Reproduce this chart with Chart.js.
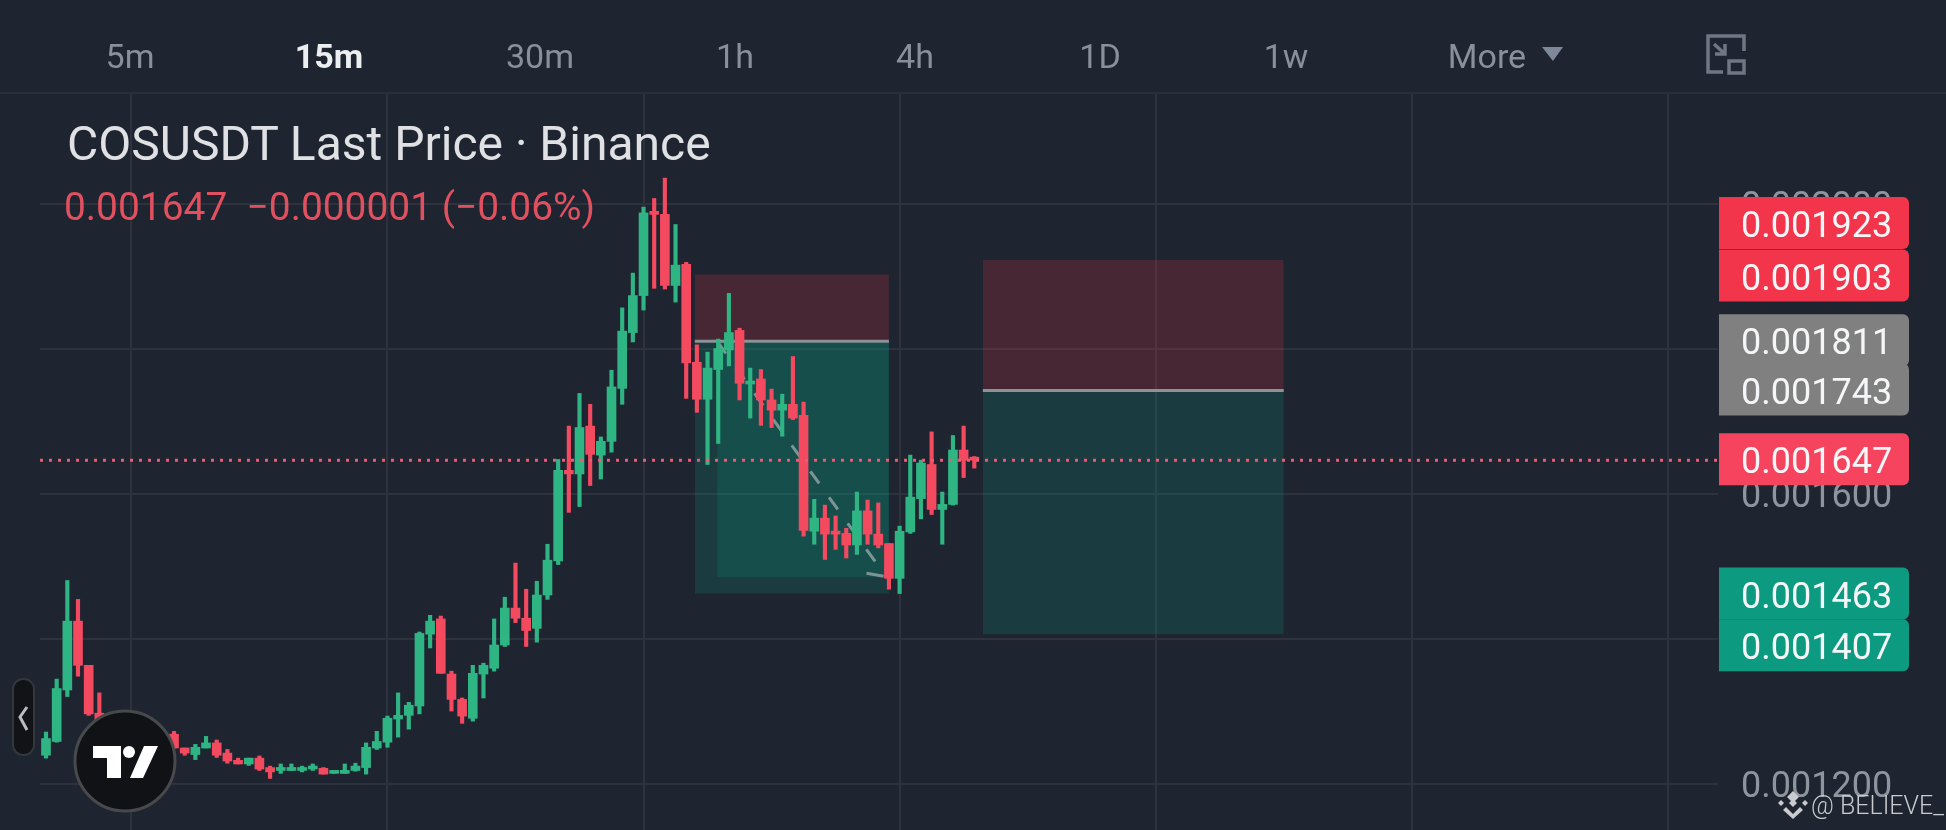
<!DOCTYPE html>
<html>
<head>
<meta charset="utf-8">
<title>COSUSDT</title>
<script src="https://cdn.jsdelivr.net/npm/chart.js@4"></script>
<style>
    html, body { margin: 0; padding: 0; background: #1e2430; }
    body { position: relative; width: 1946px; height: 830px; overflow: hidden; font-family: Roboto, sans-serif; }
    canvas { position: absolute; left: 0; top: 0; }
    .topline { position: absolute; left: 0; top: 92px; width: 1946px; height: 2px; background: #2a303b; }
    .tab { position: absolute; top: 36px; line-height: 40px; font-size: 34px; color: #8a909a; transform: translateX(-50%); white-space: nowrap; }
    .tab.on { color: #eceef0; font-weight: 700; }
    .title { position: absolute; left: 67px; top: 117px; font-size: 48px; line-height: 54px; color: #dfe1e4; white-space: nowrap; }
    .quote { position: absolute; left: 64px; top: 185px; font-size: 38.9px; line-height: 44px; color: #e0505f; white-space: pre; }
    .mark { position: absolute; left: 1811px; top: 790px; font-size: 25px; line-height: 32px; color: #c9cbce; font-weight: 300; white-space: nowrap; }
    svg { position: absolute; left: 0; top: 0; }
</style>
</head>
<body>
<canvas id="chart" width="1946" height="830"></canvas>
<div class="topline"></div>
<div class="tab" style="left:130px">5m</div>
<div class="tab on" style="left:329px">15m</div>
<div class="tab" style="left:540px">30m</div>
<div class="tab" style="left:735px">1h</div>
<div class="tab" style="left:915px">4h</div>
<div class="tab" style="left:1100px">1D</div>
<div class="tab" style="left:1286px">1w</div>
<div class="tab" style="left:1487px">More</div>
<div class="title">COSUSDT Last Price · Binance</div>
<div class="quote">0.001647  −0.000001 (−0.06%)</div>
<div class="mark">@ BELIEVE_</div>
<svg width="1946" height="830" viewBox="0 0 1946 830">
    <polygon points="1542,47 1563,47 1553,61" fill="#7f8899"/>
    <path d="M1723 72H1708V36H1744V51M1714 44L1725 54M1715 54H1725V44" fill="none" stroke="#6f7785" stroke-width="3.5"/>
    <rect x="1729" y="61" width="15" height="12" fill="none" stroke="#6f7785" stroke-width="3.5"/>
    <rect x="13" y="679" width="21" height="76" rx="10" fill="#111317" stroke="#33363b" stroke-width="2"/>
    <path d="M27 707L20 717L27 730" fill="none" stroke="#b9bcc0" stroke-width="3"/>
    <circle cx="125" cy="761" r="50" fill="#111215" stroke="#48494b" stroke-width="3"/>
    <polygon points="93,746 121,746 121,778 107,778 107,758 93,758" fill="#fff"/>
    <circle cx="129" cy="752" r="6" fill="#fff"/>
    <polygon points="144,746 158,746 143,778 130,778" fill="#fff"/>
    <g fill="#c9cbce">
        <polygon points="1793,791 1799,797 1793,803 1787,797"/>
        <polygon points="1793,799 1797,803 1793,807 1789,803"/>
        <polygon points="1781,800 1784,803 1781,806 1778,803"/>
        <polygon points="1805,800 1808,803 1805,806 1802,803"/>
        <polygon points="1786,807 1793,814 1800,807 1803,810 1793,819 1783,810"/>
    </g>
</svg>
<script>
// prices are in millionths of USDT, one entry per 15m candle
const opens = [1240,1259,1330,1425,1364,1298,1276,1262,1269,1257,
    1262,1252,1269,1250,1241,1250,1257,1243,1233,1228,
    1236,1223,1219,1219,1219,1221,1222,1215,1215,1219,
    1223,1250,1258,1290,1295,1308,1407,1428,1352,1317,
    1291,1352,1360,1392,1443,1429,1415,1461,1508,1633,
    1628,1694,1654,1673,1746,1823,1874,1989,1986,1888,
    1917,1782,1731,1772,1799,1826,1752,1759,1730,1716,
    1724,1709,1549,1567,1548,1546,1530,1577,1545,1532,
    1484,1548,1594,1641,1579,1586,1661,1648];
const closes = [1263,1332,1425,1364,1297,1276,1262,1269,1257,1262,
    1252,1269,1250,1243,1251,1257,1240,1232,1228,1236,
    1221,1217,1222,1223,1223,1225,1214,1217,1219,1225,
    1251,1259,1291,1295,1309,1408,1425,1353,1317,1294,
    1353,1364,1392,1443,1429,1412,1461,1509,1633,1628,
    1692,1655,1673,1748,1825,1874,1988,1986,1888,1916,
    1781,1731,1774,1801,1823,1753,1756,1730,1716,1724,
    1705,1550,1567,1545,1545,1530,1577,1545,1530,1484,
    1549,1596,1643,1579,1586,1661,1647,1647];
const highs = [1272,1345,1481,1455,1364,1326,1284,1277,1273,1270,
    1266,1273,1273,1250,1255,1266,1261,1248,1236,1236,
    1239,1225,1228,1228,1225,1228,1223,1217,1228,1229,
    1257,1273,1294,1326,1313,1410,1433,1432,1356,1319,
    1364,1367,1428,1458,1505,1469,1480,1531,1648,1694,
    1739,1724,1679,1771,1857,1905,1996,2008,2036,1972,
    1920,1806,1796,1814,1877,1829,1774,1772,1745,1738,
    1790,1727,1593,1585,1570,1553,1603,1592,1588,1532,
    1556,1654,1647,1686,1603,1681,1694,1652];
const lows = [1236,1258,1321,1349,1295,1266,1257,1258,1251,1252,
    1248,1250,1250,1240,1234,1250,1237,1229,1228,1226,
    1219,1208,1215,1219,1217,1219,1214,1215,1215,1218,
    1214,1248,1251,1265,1276,1297,1388,1353,1301,1284,
    1287,1319,1356,1390,1423,1390,1396,1455,1503,1575,
    1583,1612,1621,1658,1724,1810,1854,1884,1883,1865,
    1732,1713,1641,1670,1777,1730,1705,1695,1692,1680,
    1703,1542,1531,1510,1524,1512,1517,1531,1526,1469,
    1463,1546,1566,1572,1531,1585,1623,1636];

const lastPrice = 1647;
const gridCandles = [8, 32, 56, 80, 104, 128, 152];
const priceTicks = [1200, 1400, 1600, 1800, 2000];

// short-position boxes: from candle, to candle, stop, entry, target
const boxFrom = [60.8, 87.8];
const boxTo = [79, 116];
const boxStop = [1903, 1923];
const boxEntry = [1811, 1743];
const boxTarget = [1463, 1407];
// the second, lighter target zone inside the first box
const innerFrom = 62.9, innerTo = 79, innerTop = 1811, innerBottom = 1486;
// projected drop drawn on the chart
const pathX = [62.9, 78.5], pathY = [1811, 1491];
const headX = [76.9, 78.5], headY = [1491, 1487];

const tagPrices = [1923, 1903, 1811, 1743, 1647, 1463, 1407];
const tagShifts = [-37, 1, -1, -1, -1, 0, 11];
const tagColors = ['#f2354a', '#f2354a', '#808080', '#808080', '#f7445e', '#0c9a81', '#0c9a81'];

const upColor = '#2fb584';
const downColor = '#f34a60';
const gridColor = '#2d323d';

const candleIdx = opens.map((_, i) => i);
const candleColors = opens.map((o, i) => closes[i] >= o ? upColor : downColor);

function zone(x0, x1, top, bottom, color) {
    return {
        type: 'line', order: 10, pointRadius: 0, borderWidth: 0,
        data: [{ x: x0, y: top }, { x: x1, y: top }],
        fill: { value: bottom }, backgroundColor: color
    };
}

function hline(x0, x1, y, color, width) {
    return {
        type: 'line', order: 9, pointRadius: 0, borderColor: color, borderWidth: width,
        data: [{ x: x0, y: y }, { x: x1, y: y }]
    };
}

// price tags on the right, over the axis labels
const priceTags = {
    id: 'priceTags',
    afterDatasetsDraw(chart) {
        const ctx = chart.ctx;
        const yScale = chart.scales.y;
        ctx.save();
        ctx.font = '36px Roboto';
        ctx.textAlign = 'left';
        ctx.textBaseline = 'middle';
        tagPrices.forEach((p, i) => {
            const c = yScale.getPixelForValue(p) + tagShifts[i];
            ctx.fillStyle = tagColors[i];
            ctx.beginPath();
            ctx.roundRect(1719, c - 26, 190, 52, [0, 6, 6, 0]);
            ctx.fill();
            ctx.fillStyle = '#f4f6f7';
            ctx.fillText((p / 1e6).toFixed(6), 1741, c + 5);
        });
        ctx.restore();
    }
};

const datasets = [];
boxFrom.forEach((x0, i) => {
    datasets.push(zone(x0, boxTo[i], boxStop[i], boxEntry[i], 'rgba(242, 54, 69, 0.2)'));
    datasets.push(zone(x0, boxTo[i], boxEntry[i], boxTarget[i], 'rgba(8, 153, 129, 0.2)'));
    datasets.push(hline(x0, boxTo[i], boxEntry[i], '#8d9296', 3));
});
datasets.push(zone(innerFrom, innerTo, innerTop, innerBottom, 'rgba(8, 153, 129, 0.2)'));
datasets.push({
    type: 'line', order: 8, pointRadius: 0, borderColor: 'rgba(150, 168, 168, 0.8)', borderWidth: 3,
    borderDash: [15, 17],
    data: pathX.map((x, i) => ({ x: x, y: pathY[i] }))
});
datasets.push({
    type: 'line', order: 8, pointRadius: 0, borderColor: 'rgba(150, 168, 168, 0.8)', borderWidth: 3,
    data: headX.map((x, i) => ({ x: x, y: headY[i] }))
});
datasets.push({
    type: 'bar', order: 3, grouped: false, barThickness: 3.5, backgroundColor: candleColors,
    data: candleIdx.map(i => ({ x: i, y: [lows[i], highs[i]] }))
});
datasets.push({
    type: 'bar', order: 2, grouped: false, barThickness: 9, minBarLength: 3, backgroundColor: candleColors,
    data: candleIdx.map(i => ({ x: i, y: [opens[i], closes[i]] }))
});
datasets.push({
    type: 'line', order: 1, pointRadius: 0, borderColor: '#ee5b6e', borderWidth: 3, borderDash: [3, 6],
    data: [{ x: -0.562, y: lastPrice }, { x: 156.7, y: lastPrice }]
});

new Chart(document.getElementById('chart').getContext('2d'), {
    type: 'bar',
    data: { datasets: datasets },
    options: {
        responsive: false,
        animation: false,
        devicePixelRatio: 1,
        layout: { padding: { left: 40, top: 93, right: 0, bottom: 0 } },
        plugins: { legend: { display: false }, tooltip: { enabled: false } },
        scales: {
            x: {
                type: 'linear', min: -0.562, max: 156.7, offset: false,
                afterBuildTicks: scale => { scale.ticks = gridCandles.map(v => ({ value: v })); },
                afterFit: scale => { scale.height = 0; scale.paddingBottom = 0; scale.paddingTop = 0; },
                ticks: { display: false },
                border: { display: false },
                grid: { color: gridColor, lineWidth: 2, drawTicks: false, offset: false }
            },
            y: {
                position: 'right', min: 1136.9, max: 2153.4,
                afterFit: scale => { scale.width = 228; scale.paddingBottom = 0; scale.paddingTop = 0; },
                afterBuildTicks: scale => { scale.ticks = priceTicks.map(v => ({ value: v })); },
                ticks: {
                    color: '#8f959e', font: { family: 'Roboto', size: 36 }, padding: 23, labelOffset: 4,
                    callback: v => (v / 1e6).toFixed(6)
                },
                border: { display: false },
                grid: { color: gridColor, lineWidth: 2, drawTicks: false }
            }
        }
    },
    plugins: [priceTags]
});
</script>
</body>
</html>
